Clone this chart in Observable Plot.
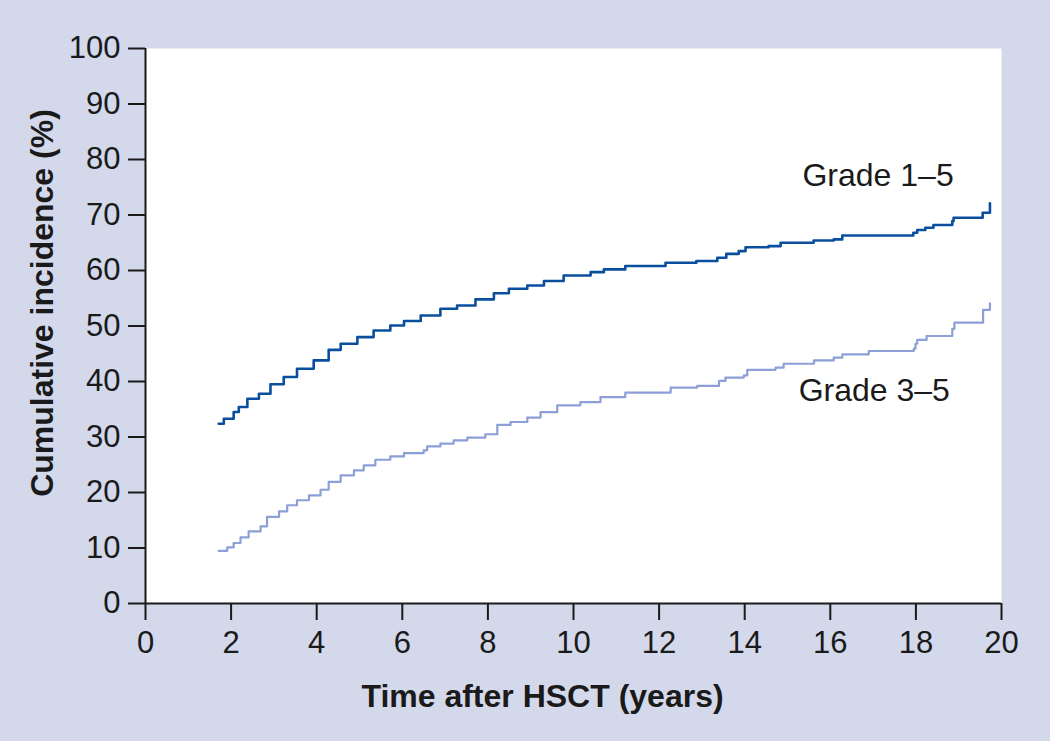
<!DOCTYPE html>
<html>
<head>
<meta charset="utf-8">
<script src="https://cdn.jsdelivr.net/npm/d3@7"></script>
<script src="https://cdn.jsdelivr.net/npm/@observablehq/plot@0.6"></script>
<style>
  html, body { margin: 0; padding: 0; background: #d3d8eb; }
  #chart svg { display: block; }
</style>
</head>
<body>
<div id="chart"></div>
<script>
// Grade 1–5 cumulative incidence (step function)
const grade15Time = [1.71,1.83,2.06,2.18,2.38,2.65,2.92,3.23,3.54,3.93,4.28,4.56,4.95,5.33,5.72,6.04,6.43,6.89,7.28,7.71,8.14,8.49,8.92,9.31,9.77,10.40,10.71,11.21,12.15,12.87,13.36,13.57,13.86,14.02,14.56,14.84,15.61,16.08,16.28,17.94,18.03,18.22,18.41,18.85,18.88,19.56,19.73];
const grade15Value = [32.4,33.3,34.5,35.4,36.9,37.8,39.5,40.8,42.3,43.8,45.7,46.8,48.0,49.2,50.1,50.9,51.9,53.1,53.7,54.8,55.9,56.7,57.3,58.1,59.1,59.7,60.2,60.8,61.4,61.7,62.3,63.0,63.5,64.2,64.4,65.0,65.4,65.6,66.3,66.8,67.3,67.7,68.2,68.9,69.5,70.4,72.1];

// Grade 3–5 cumulative incidence (step function)
const grade35Time = [1.71,1.91,2.06,2.22,2.41,2.69,2.84,3.12,3.31,3.54,3.82,4.09,4.28,4.56,4.87,5.10,5.37,5.72,6.04,6.50,6.58,6.89,7.20,7.52,7.94,8.22,8.53,8.92,9.23,9.62,10.16,10.63,11.21,12.27,12.89,13.40,13.55,13.98,14.06,14.72,14.91,15.62,16.08,16.28,16.90,17.95,17.99,18.03,18.25,18.85,18.90,19.57,19.73];
const grade35Value = [9.5,10.1,10.9,11.9,13.0,13.9,15.6,16.6,17.7,18.6,19.5,20.5,21.9,23.1,24.0,24.9,25.9,26.5,27.1,27.6,28.3,28.8,29.4,29.9,30.5,32.2,32.7,33.5,34.5,35.7,36.3,37.2,38.0,38.9,39.2,40.1,40.7,41.1,42.1,42.5,43.2,43.8,44.3,44.9,45.5,45.9,46.8,47.5,48.2,49.5,50.6,52.9,54.1];

const xTicks = [0,2,4,6,8,10,12,14,16,18,20];
const yTicks = [0,10,20,30,40,50,60,70,80,90,100];
const seriesLabels = ["Grade 1–5", "Grade 3–5"];
const labelTime = [15.35, 15.26];
const labelValue = [77.1, 38.4];
const xTitle = "Time after HSCT (years)";
const yTitle = "Cumulative incidence (%)";

const g15 = grade15Time.map((t, i) => ({t, v: grade15Value[i]}));
const g35 = grade35Time.map((t, i) => ({t, v: grade35Value[i]}));
const labels = seriesLabels.map((s, i) => ({s, t: labelTime[i], v: labelValue[i]}));

const font = "'Liberation Sans', Arial, Helvetica, sans-serif";

const chart = Plot.plot({
  width: 1050,
  height: 741,
  marginLeft: 145,
  marginRight: 49,
  marginTop: 48,
  marginBottom: 138,
  style: {background: "#d3d8eb", fontFamily: font, fontSize: "31px", color: "#1a1a1a"},
  x: {domain: [0, 20]},
  y: {domain: [0, 100]},
  marks: [
    Plot.frame({fill: "white", stroke: null}),
    Plot.axisX({ticks: xTicks, tickSize: 17, tickPadding: 10, strokeWidth: 2, label: null, fontSize: 31, fill: "#1a1a1a"}),
    Plot.axisY({ticks: yTicks, tickSize: 17, tickPadding: 8, strokeWidth: 2, label: null, fontSize: 31, fill: "#1a1a1a"}),
    Plot.ruleX([0], {stroke: "#1a1a1a", strokeWidth: 2}),
    Plot.ruleY([0], {stroke: "#1a1a1a", strokeWidth: 2}),
    Plot.line(g35, {x: "t", y: "v", curve: "step-after", stroke: "#8c9fd7", strokeWidth: 2.2}),
    Plot.line(g15, {x: "t", y: "v", curve: "step-after", stroke: "#0a4f9e", strokeWidth: 2.6}),
    Plot.text(labels, {x: "t", y: "v", text: "s", textAnchor: "start", fontSize: 32, fill: "#1a1a1a"}),
    Plot.text([xTitle], {frameAnchor: "bottom", textAnchor: "middle", lineAnchor: "middle", dx: -31, dy: 93, fontSize: 32, fontWeight: "bold", fill: "#1a1a1a"}),
    Plot.text([yTitle], {frameAnchor: "left", textAnchor: "middle", lineAnchor: "middle", rotate: -90, dx: -103, dy: -23, fontSize: 32, fontWeight: "bold", fill: "#1a1a1a"})
  ]
});
document.getElementById("chart").appendChild(chart);
</script>
</body>
</html>
